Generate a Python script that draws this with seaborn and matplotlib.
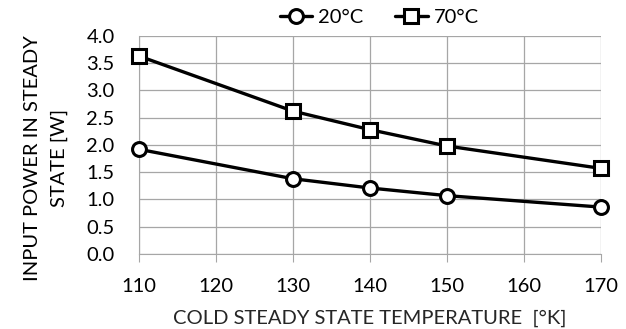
import matplotlib
matplotlib.use("Agg")
import matplotlib.pyplot as plt
import seaborn as sns

# data
temps = [110, 130, 140, 150, 170]
power_20c = [1.92, 1.38, 1.21, 1.07, 0.86]
power_70c = [3.63, 2.62, 2.28, 1.98, 1.57]
series_labels = ["20°C", "70°C"]
series_markers = ["o", "s"]
ylabel_lines = ["INPUT POWER IN STEADY", "STATE [W]"]

sns.set_style("white")
plt.rcParams["font.family"] = ["Lato", "DejaVu Sans"]
plt.rcParams["text.color"] = "black"

fig = plt.figure(figsize=(6.26, 3.29), dpi=100)
ax = fig.add_axes([0.222, 0.228, 0.738, 0.663])

for vals, lab, mk in zip([power_20c, power_70c], series_labels, series_markers):
    sns.lineplot(x=temps, y=vals, ax=ax, color="black", linewidth=2.4,
                 marker=mk, markersize=10, markerfacecolor="white",
                 markeredgecolor="black", markeredgewidth=2.2, label=lab,
                 clip_on=False, zorder=5)

ax.set_xlim(110, 170)
ax.set_ylim(0, 4.0)
ax.set_xticks(range(110, 171, 10))
ax.set_yticks([i * 0.5 for i in range(9)])
ax.set_yticklabels([f"{i * 0.5:.1f}" for i in range(9)])
ax.grid(True, color="#a6a6a6", linewidth=0.9)
ax.set_axisbelow(True)
for s in ["top", "right"]:
    ax.spines[s].set_visible(False)
for s in ["left", "bottom"]:
    ax.spines[s].set_color("#a6a6a6")
ax.tick_params(axis="x", bottom=True, length=5.5, color="#a6a6a6",
               labelsize=14.5, labelcolor="black", pad=12)
ax.tick_params(axis="y", left=False, labelsize=14.5, labelcolor="black", pad=14)

ax.set_xlabel("COLD STEADY STATE TEMPERATURE  [°K]", fontsize=14.5, labelpad=10)

# y label: two centred lines, each its own text
for xpos, line in zip([0.052, 0.095], ylabel_lines):
    fig.text(xpos, 0.52, line, fontsize=14.5, rotation=90,
             ha="center", va="center")

ax.legend(loc="lower center", bbox_to_anchor=(0.52, 1.01), ncol=2, frameon=False,
          fontsize=14.5, handlelength=1.6, columnspacing=1.6, handletextpad=0.3,
          borderaxespad=0)

fig.savefig("out.png", dpi=100)
